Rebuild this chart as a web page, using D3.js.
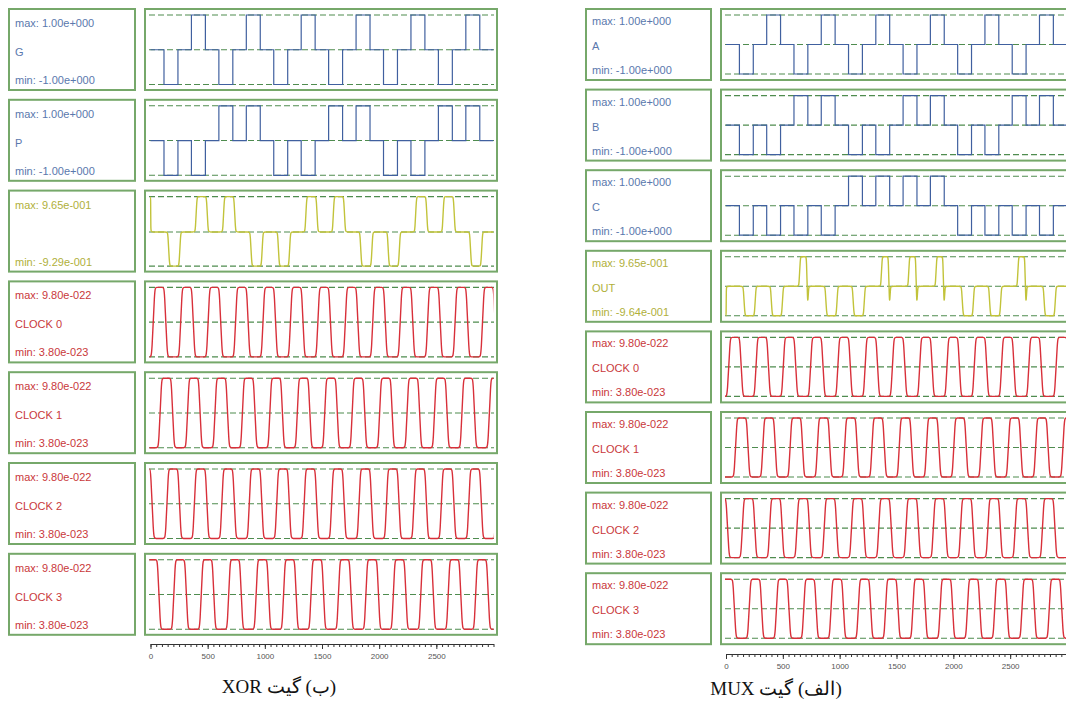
<!DOCTYPE html>
<html>
<head>
<meta charset="utf-8">
<script src="https://cdn.jsdelivr.net/npm/d3@7"></script>
<style>
  body { margin: 0; background: #ffffff; }
  svg { display: block; }
</style>
</head>
<body>
<svg id="chart" width="1066" height="701"></svg>
<script>
// ---- Simulation data (time axis 0..3000) ----
// Start of each clock cycle used to build the four clock zones
const cycleStarts = [-240, 0, 240, 480, 720, 960, 1200, 1440, 1680, 1920, 2160, 2400, 2640, 2880];
// Start of each input/output time slot
const slotStarts = [0, 240, 480, 720, 960, 1200, 1440, 1680, 1920, 2160, 2400, 2640];
const timeTicks = [0, 500, 1000, 1500, 2000, 2500];

// Clock zones
const clockNames = ["CLOCK 0", "CLOCK 1", "CLOCK 2", "CLOCK 3"];
const clockPhases = [0, 60, 120, 180];
const clockHigh = 9.80e-22;
const clockLow = 3.80e-23;
// spline control points of one clock cycle: [offset, level] (0 = low, 1 = high)
const clockCycle = [[0, 0], [12, 0], [36, 1], [46, 1], [112, 1], [122, 1], [146, 0], [158, 0]];

// Input pulse window inside a slot
const inputWindow = [118, 240];

// XOR gate
const xorG = [-1, 1, -1, 1, -1, 1, -1, 1, -1, 1, -1, 1];
const xorP = [-1, -1, 1, 1, -1, -1, 1, 1, -1, -1, 1, 1];
const xorOut = [-0.929, 0.965, 0.965, -0.929, -0.929, 0.965, 0.965, -0.929, -0.929, 0.965, 0.965, -0.929];
const xorOutStart = 0.965;

// MUX gate
const muxA = [-1, 1, -1, 1, -1, 1, -1, 1, -1, 1, -1, 1];
const muxB = [-1, -1, 1, 1, -1, -1, 1, 1, -1, -1, 1, 1];
const muxC = [-1, -1, -1, -1, 1, 1, 1, 1, -1, -1, -1, -1];
const muxOut = [-0.964, -0.964, 0.965, -0.964, -0.964, 0.965, 0.965, 0.965, -0.964, -0.964, 0.965, -0.964];
const muxOutStart = -0.964;

// Output pulse spline control points inside a slot: [offset, fraction of the slot value]
const outPulse = [[146, 0], [152, 0], [166, 1], [174, 1], [242, 1], [250, 1], [264, 0], [270, 0]];
// MUX logic-1 pulses end with a short undershoot
const muxUpPulse = [[156, 0], [162, 0], [174, 1], [180, 1], [222, 1], [228, 1], [237, -0.5], [241, -0.5], [248, 0], [254, 0]];

// ---- Colours ----
const colors = {
  input:  { text: "#5a78ad", line: "#40609f" },
  output: { text: "#b0b03a", line: "#c2c33a" },
  clock:  { text: "#c9383b", line: "#d8303a" },
  box: "#76a86a",
  grid: "#4f8c4f"
};

const svg = d3.select("#chart");

function inputPoints(values) {
  const pts = [[0, 0]];
  values.forEach((v, i) => {
    const s = slotStarts[i];
    pts.push([s + inputWindow[0], 0], [s + inputWindow[0], v], [s + inputWindow[1], v], [s + inputWindow[1], 0]);
  });
  pts.push([3000, 0]);
  return pts;
}

function outputPoints(values, start, upShape) {
  const pts = [[0, start], [1, start], [3, 0], [5, 0]];
  values.forEach((v, i) => {
    const s = slotStarts[i];
    const shape = v > 0 && upShape ? upShape : outPulse;
    shape.forEach(([o, f]) => pts.push([s + o, f * v]));
  });
  pts.push([3000, 0], [3001, 0]);
  return pts;
}

function clockPoints(phase) {
  const pts = [];
  cycleStarts.forEach(c => {
    clockCycle.forEach(([o, lv]) => pts.push([c + phase + o, lv ? clockHigh : clockLow]));
  });
  const last = cycleStarts[cycleStarts.length - 1] + phase + 240;
  pts.push([last, clockLow], [last + 10, clockLow]);
  return pts;
}

let clipId = 0;

function drawPanel(cfg) {
  const g = svg.append("g");
  const x = d3.scaleLinear().domain([0, 3000]).range([cfg.x0, cfg.x1]);

  cfg.rows.forEach((row, i) => {
    const top = cfg.top + i * cfg.pitch;
    const bottom = top + cfg.rowH;
    const col = colors[row.type];

    // label box
    g.append("rect")
      .attr("x", cfg.labelX).attr("y", top)
      .attr("width", cfg.labelW).attr("height", cfg.rowH)
      .attr("fill", "#fff").attr("stroke", colors.box).attr("stroke-width", 2);

    const lbl = g.append("g")
      .attr("font-family", "'Liberation Sans', Arial, sans-serif")
      .attr("font-size", 11).attr("fill", col.text);
    lbl.append("text").attr("x", cfg.labelX + 6).attr("y", top + cfg.maxY).text("max: " + row.maxText);
    if (row.name) lbl.append("text").attr("x", cfg.labelX + 6).attr("y", top + cfg.nameY).text(row.name);
    lbl.append("text").attr("x", cfg.labelX + 6).attr("y", top + cfg.minY).text("min: " + row.minText);

    // plot box
    g.append("rect")
      .attr("x", cfg.plotX).attr("y", top)
      .attr("width", cfg.plotW).attr("height", cfg.rowH)
      .attr("fill", "#fff").attr("stroke", colors.box).attr("stroke-width", 2);

    const y = d3.scaleLinear().domain([row.min, row.max])
      .range([bottom - cfg.insetBottom, top + cfg.insetTop]);

    // reference lines: max, mid, min
    const mid = row.type === "clock" ? (row.min + row.max) / 2 : 0;
    g.selectAll(null).data([row.max, mid, row.min]).enter().append("line")
      .attr("x1", cfg.plotX + 4).attr("x2", cfg.plotX + cfg.plotW - 3)
      .attr("y1", d => y(d)).attr("y2", d => y(d))
      .attr("stroke", colors.grid).attr("stroke-width", 1.1)
      .attr("stroke-dasharray", "6,3");

    // clip to the time range
    const id = "clip" + (clipId++);
    g.append("clipPath").attr("id", id).append("rect")
      .attr("x", x(0) - 1).attr("y", top).attr("width", x(3000) - x(0) + 1).attr("height", cfg.rowH);

    const line = d3.line()
      .x(d => x(d[0])).y(d => y(d[1]))
      .curve(row.type === "input" ? d3.curveLinear : d3.curveBasis);

    g.append("path")
      .attr("clip-path", `url(#${id})`)
      .attr("d", line(row.points))
      .attr("fill", "none")
      .attr("stroke", col.line)
      .attr("stroke-width", row.type === "input" ? 1.2 : 1.4);
  });

  // time axis
  const axisG = g.append("g").attr("transform", `translate(0,${cfg.axisY})`);
  const minor = d3.axisBottom(x).ticks(60).tickSize(3).tickFormat("").tickSizeOuter(0);
  axisG.append("g").call(minor);
  const major = d3.axisBottom(x).tickValues(timeTicks).tickSize(5).tickSizeOuter(0).tickFormat(d3.format("d"));
  const maj = axisG.append("g").call(major);
  axisG.selectAll("path.domain").attr("stroke", "#333");
  axisG.selectAll(".tick line").attr("stroke", "#333");
  maj.selectAll(".tick text")
    .attr("font-family", "'Liberation Sans', Arial, sans-serif")
    .attr("font-size", 8).attr("fill", "#555").attr("dy", "0.9em");

  // caption (right-to-left)
  g.append("text")
    .attr("x", cfg.captionX).attr("y", cfg.captionY)
    .attr("text-anchor", "middle")
    .style("direction", "rtl").style("unicode-bidi", "embed")
    .attr("font-family", "'Liberation Serif', 'Times New Roman', serif")
    .attr("font-size", 19).attr("fill", "#111")
    .text(cfg.caption);
}

function clockRows() {
  return clockNames.map((n, k) => ({
    type: "clock", name: n, maxText: "9.80e-022", minText: "3.80e-023",
    min: clockLow, max: clockHigh, points: clockPoints(clockPhases[k])
  }));
}

// XOR panel (left)
drawPanel({
  labelX: 9, labelW: 126, plotX: 145, plotW: 352,
  top: 9, pitch: 90.8, rowH: 81, insetTop: 6, insetBottom: 5.5,
  maxY: 18, nameY: 47, minY: 75,
  x0: 150.5, x1: 493.5, axisY: 644,
  caption: "(ب) گیت XOR", captionX: 279, captionY: 693,
  rows: [
    { type: "input", name: "G", maxText: "1.00e+000", minText: "-1.00e+000", min: -1, max: 1, points: inputPoints(xorG) },
    { type: "input", name: "P", maxText: "1.00e+000", minText: "-1.00e+000", min: -1, max: 1, points: inputPoints(xorP) },
    { type: "output", name: "", maxText: "9.65e-001", minText: "-9.29e-001", min: -0.929, max: 0.965, points: outputPoints(xorOut, xorOutStart, null) },
    ...clockRows()
  ]
});

// MUX panel (right)
drawPanel({
  labelX: 586, labelW: 125, plotX: 721, plotW: 352,
  top: 9, pitch: 80.6, rowH: 71, insetTop: 6, insetBottom: 6,
  maxY: 16, nameY: 41, minY: 65,
  x0: 726, x1: 1067, axisY: 654,
  caption: "(الف) گیت MUX", captionX: 776, captionY: 695,
  rows: [
    { type: "input", name: "A", maxText: "1.00e+000", minText: "-1.00e+000", min: -1, max: 1, points: inputPoints(muxA) },
    { type: "input", name: "B", maxText: "1.00e+000", minText: "-1.00e+000", min: -1, max: 1, points: inputPoints(muxB) },
    { type: "input", name: "C", maxText: "1.00e+000", minText: "-1.00e+000", min: -1, max: 1, points: inputPoints(muxC) },
    { type: "output", name: "OUT", maxText: "9.65e-001", minText: "-9.64e-001", min: -0.964, max: 0.965, points: outputPoints(muxOut, muxOutStart, muxUpPulse) },
    ...clockRows()
  ]
});
</script>
</body>
</html>
